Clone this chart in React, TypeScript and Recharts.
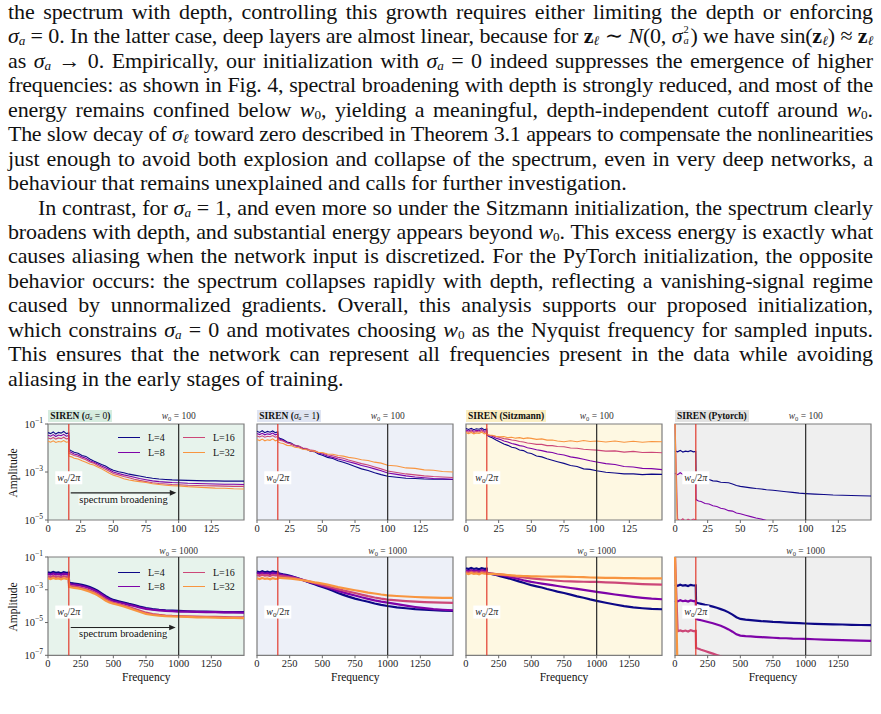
import React, { useLayoutEffect, useRef, useState } from 'react';
import { LineChart, Line, XAxis, YAxis, CartesianGrid, ReferenceLine, ReferenceArea, Legend } from 'recharts';

const SERIF = '"Liberation Serif", "DejaVu Serif", serif';

// ---- spectra: log10 amplitude per depth, sampled on two frequency grids ----
const DEPTHS = ['L=4', 'L=8', 'L=16', 'L=32'];
const DEPTH_KEYS = ['l4', 'l8', 'l16', 'l32'];
const DEPTH_COLORS = ['#0d0887', '#7e03a8', '#cc4778', '#f89540'];

const FREQ_100 = [0, 2, 4, 6, 8, 10, 12, 14, 15.9, 16.1, 18, 20, 23, 26, 29, 32, 35, 38, 41, 44, 47, 50, 54, 58, 62, 66, 70, 75, 80, 85, 90, 95, 100, 107, 114, 121, 128, 135, 142, 150];
const FREQ_1000 = [0, 20, 40, 60, 80, 100, 120, 140, 159, 161, 180, 200, 230, 260, 290, 320, 350, 380, 410, 440, 470, 500, 540, 580, 620, 660, 700, 750, 800, 850, 900, 950, 1000, 1070, 1140, 1210, 1280, 1350, 1420, 1500];

// SIREN (sigma_a = 0), w0 = 100
const SIG0_100_L4 = [-1.36, -1.40, -1.33, -1.42, -1.35, -1.38, -1.31, -1.40, -1.37, -2.06, -2.12, -2.18, -2.22, -2.31, -2.35, -2.46, -2.54, -2.61, -2.69, -2.75, -2.85, -2.93, -2.99, -3.03, -3.09, -3.13, -3.17, -3.22, -3.26, -3.29, -3.31, -3.33, -3.34, -3.35, -3.36, -3.37, -3.37, -3.38, -3.38, -3.38];
const SIG0_100_L8 = [-1.47, -1.51, -1.44, -1.52, -1.46, -1.49, -1.43, -1.51, -1.48, -2.14, -2.19, -2.25, -2.29, -2.37, -2.43, -2.53, -2.59, -2.67, -2.75, -2.82, -2.91, -3.00, -3.06, -3.12, -3.17, -3.22, -3.27, -3.32, -3.37, -3.40, -3.42, -3.44, -3.45, -3.47, -3.48, -3.49, -3.50, -3.51, -3.51, -3.52];
const SIG0_100_L16 = [-1.58, -1.62, -1.56, -1.63, -1.58, -1.61, -1.55, -1.62, -1.60, -2.22, -2.26, -2.31, -2.35, -2.43, -2.49, -2.58, -2.63, -2.73, -2.80, -2.89, -2.97, -3.06, -3.12, -3.19, -3.24, -3.30, -3.35, -3.40, -3.45, -3.48, -3.50, -3.52, -3.53, -3.55, -3.56, -3.57, -3.58, -3.59, -3.60, -3.60];
const SIG0_100_L32 = [-1.72, -1.76, -1.70, -1.77, -1.73, -1.75, -1.69, -1.76, -1.74, -2.34, -2.37, -2.43, -2.46, -2.53, -2.59, -2.67, -2.71, -2.79, -2.87, -2.96, -3.05, -3.13, -3.20, -3.28, -3.33, -3.37, -3.40, -3.44, -3.49, -3.52, -3.55, -3.57, -3.58, -3.61, -3.63, -3.65, -3.67, -3.68, -3.70, -3.71];

// SIREN (sigma_a = 1), w0 = 100
const SIG1_100_L4 = [-1.30, -1.35, -1.28, -1.36, -1.31, -1.34, -1.29, -1.36, -1.33, -1.55, -1.61, -1.65, -1.75, -1.79, -1.89, -1.93, -2.01, -2.05, -2.13, -2.15, -2.25, -2.30, -2.39, -2.44, -2.53, -2.59, -2.67, -2.77, -2.87, -2.94, -3.03, -3.11, -3.18, -3.22, -3.26, -3.27, -3.29, -3.30, -3.30, -3.31];
const SIG1_100_L8 = [-1.40, -1.44, -1.39, -1.45, -1.41, -1.43, -1.38, -1.45, -1.42, -1.60, -1.65, -1.69, -1.77, -1.83, -1.91, -1.94, -2.03, -2.04, -2.13, -2.14, -2.21, -2.25, -2.33, -2.39, -2.46, -2.51, -2.57, -2.64, -2.73, -2.79, -2.87, -2.95, -3.04, -3.10, -3.16, -3.21, -3.24, -3.27, -3.28, -3.30];
const SIG1_100_L16 = [-1.50, -1.54, -1.49, -1.55, -1.51, -1.53, -1.48, -1.55, -1.52, -1.65, -1.69, -1.71, -1.79, -1.82, -1.90, -1.92, -2.00, -2.02, -2.09, -2.11, -2.19, -2.21, -2.28, -2.32, -2.39, -2.43, -2.50, -2.57, -2.65, -2.71, -2.79, -2.87, -2.96, -3.02, -3.08, -3.12, -3.16, -3.19, -3.21, -3.23];
const SIG1_100_L32 = [-1.65, -1.69, -1.63, -1.70, -1.66, -1.68, -1.62, -1.70, -1.67, -1.75, -1.79, -1.81, -1.89, -1.90, -1.97, -1.99, -2.05, -2.07, -2.12, -2.13, -2.19, -2.19, -2.25, -2.26, -2.31, -2.34, -2.39, -2.43, -2.49, -2.52, -2.59, -2.63, -2.72, -2.75, -2.83, -2.85, -2.91, -2.93, -2.98, -3.00];

// SIREN (Sitzmann), w0 = 100
const SITZ_100_L4 = [-1.19, -1.23, -1.18, -1.24, -1.20, -1.22, -1.17, -1.24, -1.21, -1.47, -1.53, -1.57, -1.67, -1.75, -1.83, -1.89, -1.97, -2.00, -2.08, -2.11, -2.20, -2.23, -2.33, -2.37, -2.45, -2.51, -2.57, -2.64, -2.73, -2.77, -2.87, -2.89, -2.95, -3.01, -3.04, -3.08, -3.08, -3.11, -3.09, -3.10];
const SITZ_100_L8 = [-1.25, -1.29, -1.24, -1.30, -1.26, -1.28, -1.23, -1.30, -1.27, -1.46, -1.49, -1.51, -1.59, -1.64, -1.71, -1.75, -1.81, -1.85, -1.90, -1.93, -1.99, -2.02, -2.07, -2.11, -2.16, -2.19, -2.25, -2.29, -2.37, -2.41, -2.47, -2.53, -2.58, -2.65, -2.69, -2.77, -2.79, -2.85, -2.86, -2.90];
const SITZ_100_L16 = [-1.30, -1.34, -1.29, -1.35, -1.31, -1.33, -1.28, -1.35, -1.32, -1.45, -1.47, -1.48, -1.53, -1.56, -1.61, -1.63, -1.67, -1.69, -1.73, -1.75, -1.79, -1.81, -1.85, -1.85, -1.90, -1.90, -1.94, -1.95, -2.00, -2.01, -2.05, -2.07, -2.09, -2.13, -2.12, -2.17, -2.14, -2.19, -2.18, -2.20];
const SITZ_100_L32 = [-1.36, -1.40, -1.35, -1.41, -1.37, -1.39, -1.34, -1.41, -1.38, -1.44, -1.46, -1.47, -1.51, -1.53, -1.52, -1.57, -1.55, -1.59, -1.57, -1.61, -1.58, -1.60, -1.64, -1.62, -1.67, -1.67, -1.71, -1.74, -1.70, -1.74, -1.69, -1.73, -1.71, -1.75, -1.71, -1.76, -1.72, -1.76, -1.73, -1.74];

// SIREN (Pytorch), w0 = 100
const TORCH_100_L4 = [-2.12, -2.16, -2.10, -2.17, -2.13, -2.15, -2.11, -2.16, -2.14, -3.00, -3.09, -3.15, -3.29, -3.31, -3.37, -3.38, -3.43, -3.44, -3.45, -3.50, -3.56, -3.60, -3.63, -3.66, -3.69, -3.71, -3.74, -3.76, -3.79, -3.82, -3.85, -3.88, -3.90, -3.92, -3.94, -3.96, -3.97, -3.98, -3.99, -4.00];
const TORCH_100_L8 = [-3.05, -3.11, -3.03, -3.10, -3.06, -3.09, -3.02, -3.10, -3.07, -4.15, -4.21, -4.23, -4.31, -4.33, -4.41, -4.44, -4.51, -4.54, -4.61, -4.63, -4.71, -4.74, -4.80, -4.86, -4.92, -4.96, -5.02, -5.07, -5.12, -5.16, -5.19, -5.22, -5.24, -5.27, -5.29, -5.31, -5.32, -5.33, -5.34, -5.35];
const TORCH_100_L16 = [-0.90, -4.96, -5.04, -4.95, -5.06, -4.97, -5.03, -4.96, -5.00, -6.10, -6.14, -6.18, -6.22, -6.25, -6.28, -6.31, -6.34, -6.37, -6.40, -6.42, -6.45, -6.47, -6.50, -6.53, -6.55, -6.58, -6.60, -6.62, -6.64, -6.66, -6.68, -6.70, -6.71, -6.73, -6.74, -6.75, -6.76, -6.77, -6.78, -6.79];
const TORCH_100_L32 = [-0.90, -6.20, -6.24, -6.19, -6.26, -6.21, -6.25, -6.20, -6.22, -7.30, -7.33, -7.36, -7.39, -7.42, -7.44, -7.46, -7.48, -7.50, -7.52, -7.54, -7.56, -7.58, -7.60, -7.62, -7.64, -7.66, -7.68, -7.70, -7.72, -7.74, -7.75, -7.76, -7.77, -7.78, -7.79, -7.80, -7.81, -7.82, -7.83, -7.84];

// SIREN (sigma_a = 0), w0 = 1000
const SIG0_1000_L4 = [-1.93, -1.98, -1.91, -1.97, -1.94, -1.99, -1.92, -1.96, -1.95, -2.56, -2.60, -2.62, -2.65, -2.70, -2.76, -2.84, -2.94, -3.06, -3.22, -3.38, -3.52, -3.62, -3.70, -3.78, -3.86, -3.93, -4.02, -4.12, -4.18, -4.22, -4.25, -4.27, -4.29, -4.31, -4.33, -4.34, -4.35, -4.36, -4.37, -4.37];
const SIG0_1000_L8 = [-2.03, -2.08, -2.01, -2.07, -2.04, -2.09, -2.02, -2.06, -2.05, -2.63, -2.67, -2.69, -2.72, -2.77, -2.83, -2.91, -3.01, -3.13, -3.29, -3.45, -3.59, -3.69, -3.76, -3.84, -3.92, -3.99, -4.08, -4.17, -4.22, -4.26, -4.29, -4.31, -4.33, -4.34, -4.35, -4.36, -4.37, -4.38, -4.38, -4.39];
const SIG0_1000_L16 = [-2.18, -2.23, -2.16, -2.22, -2.19, -2.24, -2.17, -2.21, -2.20, -2.74, -2.78, -2.80, -2.84, -2.89, -2.96, -3.04, -3.14, -3.26, -3.42, -3.58, -3.70, -3.79, -3.87, -3.96, -4.06, -4.16, -4.27, -4.40, -4.48, -4.53, -4.57, -4.59, -4.60, -4.62, -4.64, -4.65, -4.66, -4.67, -4.68, -4.69];
const SIG0_1000_L32 = [-2.30, -2.35, -2.28, -2.34, -2.31, -2.36, -2.29, -2.33, -2.32, -2.82, -2.86, -2.88, -2.92, -2.97, -3.04, -3.12, -3.22, -3.34, -3.50, -3.66, -3.77, -3.85, -3.93, -4.02, -4.12, -4.23, -4.34, -4.47, -4.54, -4.58, -4.61, -4.63, -4.64, -4.66, -4.68, -4.69, -4.70, -4.71, -4.72, -4.73];

// SIREN (sigma_a = 1), w0 = 1000
const SIG1_1000_L4 = [-1.89, -1.94, -1.87, -1.93, -1.90, -1.95, -1.88, -1.92, -1.91, -1.98, -2.02, -2.06, -2.11, -2.17, -2.24, -2.32, -2.40, -2.50, -2.58, -2.66, -2.75, -2.83, -2.94, -3.06, -3.20, -3.31, -3.42, -3.54, -3.64, -3.73, -3.84, -3.92, -3.99, -4.07, -4.13, -4.18, -4.21, -4.24, -4.27, -4.29];
const SIG1_1000_L8 = [-1.98, -2.03, -1.96, -2.02, -1.99, -2.04, -1.97, -2.01, -2.00, -2.05, -2.08, -2.11, -2.15, -2.20, -2.26, -2.33, -2.40, -2.48, -2.55, -2.62, -2.69, -2.76, -2.86, -2.96, -3.07, -3.16, -3.25, -3.35, -3.46, -3.56, -3.65, -3.72, -3.78, -3.88, -3.97, -4.05, -4.12, -4.18, -4.22, -4.26];
const SIG1_1000_L16 = [-2.10, -2.15, -2.08, -2.14, -2.11, -2.16, -2.09, -2.13, -2.12, -2.14, -2.16, -2.18, -2.21, -2.25, -2.29, -2.34, -2.40, -2.46, -2.52, -2.58, -2.64, -2.70, -2.79, -2.88, -2.96, -3.04, -3.11, -3.20, -3.30, -3.39, -3.47, -3.54, -3.60, -3.65, -3.69, -3.72, -3.75, -3.77, -3.79, -3.80];
const SIG1_1000_L32 = [-2.30, -2.35, -2.28, -2.34, -2.31, -2.36, -2.29, -2.33, -2.32, -2.28, -2.28, -2.29, -2.30, -2.32, -2.35, -2.38, -2.42, -2.46, -2.50, -2.55, -2.58, -2.62, -2.69, -2.76, -2.84, -2.90, -2.96, -3.03, -3.10, -3.17, -3.23, -3.29, -3.34, -3.38, -3.41, -3.44, -3.46, -3.48, -3.49, -3.50];

// SIREN (Sitzmann), w0 = 1000
const SITZ_1000_L4 = [-1.69, -1.74, -1.67, -1.73, -1.70, -1.75, -1.68, -1.72, -1.71, -1.98, -2.01, -2.05, -2.10, -2.17, -2.23, -2.29, -2.36, -2.43, -2.50, -2.57, -2.65, -2.72, -2.79, -2.86, -2.95, -3.03, -3.11, -3.20, -3.30, -3.40, -3.49, -3.59, -3.68, -3.79, -3.90, -4.00, -4.08, -4.13, -4.17, -4.19];
const SITZ_1000_L8 = [-1.82, -1.87, -1.80, -1.86, -1.83, -1.88, -1.81, -1.85, -1.84, -1.99, -2.01, -2.03, -2.06, -2.10, -2.14, -2.19, -2.24, -2.30, -2.36, -2.42, -2.47, -2.52, -2.57, -2.62, -2.67, -2.72, -2.77, -2.83, -2.89, -2.95, -3.01, -3.07, -3.13, -3.21, -3.29, -3.36, -3.43, -3.49, -3.54, -3.58];
const SITZ_1000_L16 = [-1.91, -1.96, -1.89, -1.95, -1.92, -1.97, -1.90, -1.94, -1.93, -2.00, -2.01, -2.02, -2.04, -2.06, -2.09, -2.12, -2.16, -2.19, -2.22, -2.25, -2.28, -2.30, -2.33, -2.36, -2.39, -2.42, -2.45, -2.48, -2.49, -2.50, -2.51, -2.52, -2.52, -2.55, -2.57, -2.60, -2.62, -2.65, -2.67, -2.69];
const SITZ_1000_L32 = [-1.99, -2.04, -1.97, -2.03, -2.00, -2.05, -1.98, -2.02, -2.01, -2.02, -2.03, -2.03, -2.05, -2.06, -2.08, -2.10, -2.12, -2.14, -2.15, -2.16, -2.17, -2.18, -2.18, -2.19, -2.19, -2.20, -2.20, -2.20, -2.21, -2.22, -2.23, -2.25, -2.26, -2.27, -2.28, -2.29, -2.29, -2.30, -2.30, -2.31];

// SIREN (Pytorch), w0 = 1000
const TORCH_1000_L4 = [-2.71, -2.76, -2.69, -2.75, -2.72, -2.77, -2.70, -2.74, -2.73, -3.78, -3.82, -3.86, -3.92, -3.97, -4.03, -4.10, -4.18, -4.27, -4.38, -4.52, -4.68, -4.78, -4.82, -4.85, -4.88, -4.91, -4.93, -4.96, -4.98, -5.00, -5.02, -5.04, -5.06, -5.08, -5.10, -5.11, -5.12, -5.14, -5.15, -5.16];
const TORCH_1000_L8 = [-3.66, -3.71, -3.64, -3.70, -3.67, -3.72, -3.65, -3.69, -3.68, -4.78, -4.82, -4.86, -4.92, -4.98, -5.04, -5.12, -5.20, -5.30, -5.42, -5.56, -5.72, -5.80, -5.83, -5.85, -5.87, -5.89, -5.91, -5.93, -5.95, -5.96, -5.98, -5.99, -6.00, -6.02, -6.04, -6.06, -6.07, -6.09, -6.10, -6.12];
const TORCH_1000_L16 = [-0.90, -5.53, -5.48, -5.54, -5.49, -5.55, -5.47, -5.52, -5.51, -6.55, -6.60, -6.66, -6.74, -6.82, -6.90, -6.98, -7.06, -7.14, -7.24, -7.36, -7.50, -7.60, -7.62, -7.64, -7.66, -7.68, -7.70, -7.72, -7.74, -7.75, -7.77, -7.78, -7.80, -7.81, -7.83, -7.84, -7.85, -7.86, -7.87, -7.88];
const TORCH_1000_L32 = [-0.90, -8.10, -8.14, -8.09, -8.15, -8.11, -8.16, -8.10, -8.12, -8.60, -8.62, -8.64, -8.66, -8.68, -8.70, -8.72, -8.74, -8.76, -8.78, -8.80, -8.82, -8.84, -8.86, -8.88, -8.90, -8.92, -8.94, -8.96, -8.98, -9.00, -9.02, -9.04, -9.06, -9.08, -9.10, -9.12, -9.14, -9.16, -9.18, -9.20];

// ---- axes ----
const W0_VALUES = [100, 1000];
const CUTOFFS = [15.92, 159.2]; // w0 / 2pi
const X_MAX = [150, 1500];
const X_TICKS = [[0, 25, 50, 75, 100, 125], [0, 250, 500, 750, 1000, 1250]];
const Y_MIN = [1e-5, 1e-7];
const Y_TICKS = [[1e-5, 1e-3, 1e-1], [1e-7, 1e-5, 1e-3, 1e-1]];
const ARROW_SPAN = [[17.4, 98.2], [174, 977]];
const ARROW_LEVEL = [1.35e-4, 5e-6];

// ---- layout ----
const COL_LEFT = [48.3, 257.3, 466, 675];
const PLOT_W = 196;
const ROW_TOP = [424, 556.7];
const ROW_H = [96, 98.3];
const PANEL_BG = ['#e7f3ec', '#edf0f8', '#fef8e2', '#efefef'];
const TAG_BG = ['#d6ecdf', '#dfe4f2', '#fbefc4', '#e2e2e2'];

const GRIDS = [FREQ_100, FREQ_1000];
const SERIES = [
  [
    [SIG0_100_L4, SIG0_100_L8, SIG0_100_L16, SIG0_100_L32],
    [SIG1_100_L4, SIG1_100_L8, SIG1_100_L16, SIG1_100_L32],
    [SITZ_100_L4, SITZ_100_L8, SITZ_100_L16, SITZ_100_L32],
    [TORCH_100_L4, TORCH_100_L8, TORCH_100_L16, TORCH_100_L32],
  ],
  [
    [SIG0_1000_L4, SIG0_1000_L8, SIG0_1000_L16, SIG0_1000_L32],
    [SIG1_1000_L4, SIG1_1000_L8, SIG1_1000_L16, SIG1_1000_L32],
    [SITZ_1000_L4, SITZ_1000_L8, SITZ_1000_L16, SITZ_1000_L32],
    [TORCH_1000_L4, TORCH_1000_L8, TORCH_1000_L16, TORCH_1000_L32],
  ],
];

const toRows = (freq: number[], logs: number[][]) =>
  freq.map((f, i) => {
    const row: any = { f };
    DEPTH_KEYS.forEach((k, j) => { row[k] = Math.pow(10, logs[j][i]); });
    return row;
  });

const subStyle: React.CSSProperties = { fontSize: '0.6em', verticalAlign: '-0.12em', lineHeight: 0 };

const Sa = () => (<><i>σ</i><i style={subStyle}>a</i></>);
const Wz = () => (<><i>w</i><span style={subStyle}>0</span></>);
const Zl = () => (<><b>z</b><i style={subStyle}>ℓ</i></>);

const TITLES = [
  <>SIREN (<span style={{ fontWeight: 'normal' }}><Sa /> = 0</span>)</>,
  <>SIREN (<span style={{ fontWeight: 'normal' }}><Sa /> = 1</span>)</>,
  <>SIREN (Sitzmann)</>,
  <>SIREN (Pytorch)</>,
];

// ---- svg pieces ----
const PowerTick = ({ x, y, payload }: any) => {
  const exp = Math.round(Math.log10(payload.value));
  return (
    <text x={x} y={y} dy={3.6} textAnchor="end" fontSize={10.5} fontFamily={SERIF} fill="#222">
      10<tspan dy={-5} fontSize={7.5}>{'\u2212' + Math.abs(exp)}</tspan>
    </text>
  );
};

const CutoffTag = ({ viewBox }: any) => {
  const cy = viewBox.y + viewBox.height * 0.56;
  return (
    <g>
      <rect x={viewBox.x - 13.5} y={cy - 6.5} width={27} height={13} fill="#fff" />
      <text x={viewBox.x} y={cy + 3} textAnchor="middle" fontSize={10} fontFamily={SERIF} fill="#222">
        <tspan fontStyle="italic">w</tspan>
        <tspan fontSize={7} dy={2}>0</tspan>
        <tspan dy={-2}>/2</tspan>
        <tspan fontStyle="italic">π</tspan>
      </text>
    </g>
  );
};

const W0Tag = ({ viewBox, w0, lift }: any) => (
  <text x={viewBox.x} y={viewBox.y - lift} textAnchor="middle" fontSize={9.5} fontFamily={SERIF} fill="#333">
    <tspan fontStyle="italic">w</tspan>
    <tspan fontSize={6.5} dy={2}>0</tspan>
    <tspan dy={-2}>{` = ${w0}`}</tspan>
  </text>
);

const BroadeningArrow = ({ x1, y1, x2, gap }: any) => {
  const mid = (x1 + x2) / 2;
  return (
    <g>
      <line x1={x1} y1={y1} x2={x2 - 5} y2={y1} stroke="#222" strokeWidth={1.1} />
      <polygon points={`${x2},${y1} ${x2 - 6.5},${y1 - 2.8} ${x2 - 6.5},${y1 + 2.8}`} fill="#222" />
      <rect x={mid - 45} y={y1 + 1.5} width={90} height={gap * 2 - 2} fill="#fff" fillOpacity={0.55} />
      <text x={mid} y={y1 + gap + 3.5} textAnchor="middle" fontSize={10.5} fontFamily={SERIF} fill="#111">
        spectrum broadening
      </text>
    </g>
  );
};

const DepthLegend = ({ payload, rowH }: any) => {
  const items = DEPTHS.map((name) => (payload || []).find((p: any) => p.value === name)).filter(Boolean);
  return (
    <div style={{ display: 'grid', gridTemplateRows: `repeat(2, ${rowH}px)`, gridAutoFlow: 'column', gridAutoColumns: '65px', fontFamily: SERIF, fontSize: 10, color: '#111' }}>
      {items.map((p: any) => (
        <div key={p.value} style={{ display: 'flex', alignItems: 'center' }}>
          <span style={{ width: 22, borderTop: `1.6px solid ${p.color}`, marginRight: 8 }} />
          <span>{p.value}</span>
        </div>
      ))}
    </div>
  );
};

function SpectrumPanel({ row, col }: { row: number; col: number }) {
  const first = col === 0;
  const yw = first ? 40 : 8;
  const width = yw + PLOT_W + 6;
  const height = 14 + ROW_H[row] + 24;
  const data = toRows(GRIDS[row], SERIES[row][col]);
  return (
    <div style={{ position: 'absolute', left: COL_LEFT[col] - yw, top: ROW_TOP[row] - 14 }}>
      <LineChart width={width} height={height} data={data} margin={{ top: 14, right: 6, bottom: 0, left: 0 }}>
        <CartesianGrid fill={PANEL_BG[col]} stroke="none" horizontal={false} vertical={false} />
        <XAxis
          dataKey="f"
          type="number"
          domain={[0, X_MAX[row]]}
          ticks={X_TICKS[row]}
          interval={0}
          height={24}
          axisLine={false}
          tickSize={3}
          tickMargin={row === 0 ? 2 : 1}
          tickLine={{ stroke: '#666' }}
          tick={{ fill: '#222', fontSize: 10.5, fontFamily: SERIF }}
        />
        <YAxis
          type="number"
          scale="log"
          domain={[Y_MIN[row], 1e-1]}
          allowDataOverflow
          ticks={Y_TICKS[row]}
          interval={0}
          width={yw}
          axisLine={false}
          tickSize={3}
          tickLine={{ stroke: '#666' }}
          tick={first ? <PowerTick /> : false}
        />
        {DEPTH_KEYS.map((k, i) => (
          <Line
            key={k}
            type="linear"
            dataKey={k}
            name={DEPTHS[i]}
            stroke={DEPTH_COLORS[i]}
            strokeWidth={row === 0 ? 1.1 : 2.2}
            dot={false}
            isAnimationActive={false}
          />
        ))}
        <ReferenceLine x={CUTOFFS[row]} stroke="#e23b2e" strokeWidth={1.2} ifOverflow="visible" label={<CutoffTag />} />
        <ReferenceLine x={W0_VALUES[row]} stroke="#2a2a2a" strokeWidth={1.2} ifOverflow="visible" label={<W0Tag w0={W0_VALUES[row]} lift={row === 0 ? 5.5 : 3.2} />} />
        <ReferenceArea x1={0} x2={X_MAX[row]} y1={Y_MIN[row]} y2={1e-1} fill="none" stroke="#7d7d7d" strokeWidth={1.2} ifOverflow="visible" />
        {first && (
          <ReferenceLine
            segment={[{ x: ARROW_SPAN[row][0], y: ARROW_LEVEL[row] }, { x: ARROW_SPAN[row][1], y: ARROW_LEVEL[row] }]}
            ifOverflow="visible"
            shape={(p: any) => <BroadeningArrow {...p} gap={row === 0 ? 6.5 : 6} />}
          />
        )}
        {first && (
          <Legend
            layout="horizontal"
            verticalAlign="middle"
            align="center"
            content={<DepthLegend rowH={row === 0 ? 15 : 14.5} />}
            wrapperStyle={{ left: 109.7, top: row === 0 ? 19.8 : 22.4, width: 140, height: 32 }}
          />
        )}
      </LineChart>
    </div>
  );
}

// ---- text ----
const FONT_PX = 22;
const LINE_H = 24.45;
const TEXT_W = 865;

// one justified line; squeezes letter spacing if the line would not fit on its own
const Ln = ({ children, last, indent }: any) => {
  const ref = useRef<HTMLSpanElement>(null);
  const [spacing, setSpacing] = useState<number | null>(null);
  useLayoutEffect(() => {
    const el = ref.current;
    if (!el) return;
    const natural = el.getBoundingClientRect().width;
    const avail = TEXT_W - (indent ? 30 : 0);
    const chars = (el.textContent || '').length || 1;
    setSpacing(natural > avail - 6 ? -(natural - avail + 8) / chars : 0);
  }, [indent]);
  return (
    <div style={{ height: LINE_H, lineHeight: `${LINE_H}px`, textAlign: 'justify', textAlignLast: last ? 'left' : 'justify', textIndent: indent ? 30 : 0, letterSpacing: spacing ?? 0 }}>
      <span ref={ref} style={{ whiteSpace: spacing === null ? 'nowrap' : 'normal' }}>{children}</span>
    </div>
  );
};

// sigma with stacked superscript 2 and subscript a; zero-height box so the line box is untouched
const SigSq = () => {
  const fs = 10.5;
  return (
    <>
      <i>σ</i>
      <span style={{ position: 'relative', display: 'inline-block', width: 8, height: 0 }}>
        <span style={{ position: 'absolute', left: 1, top: -18.95, fontSize: fs, lineHeight: 1 }}>2</span>
        <i style={{ position: 'absolute', left: 1, top: -7.25, fontSize: fs, lineHeight: 1 }}>a</i>
      </span>
    </>
  );
};

function Prose() {
  return (
    <div style={{ position: 'absolute', left: 8, top: 0, width: TEXT_W, fontFamily: SERIF, fontSize: FONT_PX, color: '#111' }}>
      <Ln>the spectrum with depth, controlling this growth requires either limiting the depth or enforcing</Ln>
      <Ln><Sa /> = 0. In the latter case, deep layers are almost linear, because for <Zl /> ∼ <i>N</i>(0, <SigSq />) we have sin(<Zl />) ≈ <Zl /></Ln>
      <Ln>as <Sa /> → 0. Empirically, our initialization with <Sa /> = 0 indeed suppresses the emergence of higher</Ln>
      <Ln>frequencies: as shown in Fig. 4, spectral broadening with depth is strongly reduced, and most of the</Ln>
      <Ln>energy remains confined below <Wz />, yielding a meaningful, depth-independent cutoff around <Wz />.</Ln>
      <Ln>The slow decay of <i>σ</i><i style={subStyle}>ℓ</i> toward zero described in Theorem 3.1 appears to compensate the nonlinearities</Ln>
      <Ln>just enough to avoid both explosion and collapse of the spectrum, even in very deep networks, a</Ln>
      <Ln last>behaviour that remains unexplained and calls for further investigation.</Ln>
      <Ln indent>In contrast, for <Sa /> = 1, and even more so under the Sitzmann initialization, the spectrum clearly</Ln>
      <Ln>broadens with depth, and substantial energy appears beyond <Wz />. This excess energy is exactly what</Ln>
      <Ln>causes aliasing when the network input is discretized. For the PyTorch initialization, the opposite</Ln>
      <Ln>behavior occurs: the spectrum collapses rapidly with depth, reflecting a vanishing-signal regime</Ln>
      <Ln>caused by unnormalized gradients.  Overall, this analysis supports our proposed initialization,</Ln>
      <Ln>which constrains <Sa /> = 0 and motivates choosing <Wz /> as the Nyquist frequency for sampled inputs.</Ln>
      <Ln>This ensures that the network can represent all frequencies present in the data while avoiding</Ln>
      <Ln last>aliasing in the early stages of training.</Ln>
    </div>
  );
}

export default function App() {
  return (
    <div style={{ position: 'absolute', left: 0, top: 0, width: 881, height: 714, background: '#fff', overflow: 'hidden' }}>
      <Prose />
      {TITLES.map((t, c) => (
        <div
          key={c}
          style={{ position: 'absolute', left: COL_LEFT[c], top: 409.5, height: 12, lineHeight: '12px', padding: '0 2px', background: TAG_BG[c], fontFamily: SERIF, fontSize: 9.5, fontWeight: 'bold', color: '#111', whiteSpace: 'nowrap' }}
        >
          {t}
        </div>
      ))}
      {[0, 1].map((r) =>
        [0, 1, 2, 3].map((c) => <SpectrumPanel key={`${r}-${c}`} row={r} col={c} />)
      )}
      {[473, 606.5].map((cy) => (
        <div
          key={cy}
          style={{ position: 'absolute', left: 13 - 40, top: cy - 8, width: 80, lineHeight: '16px', textAlign: 'center', transform: 'rotate(-90deg)', fontFamily: SERIF, fontSize: 11.5, color: '#111' }}
        >
          Amplitude
        </div>
      ))}
      {COL_LEFT.map((x) => (
        <div
          key={x}
          style={{ position: 'absolute', left: x + PLOT_W / 2 - 40, top: 668.7, width: 80, lineHeight: '16px', textAlign: 'center', fontFamily: SERIF, fontSize: 11.5, color: '#111' }}
        >
          Frequency
        </div>
      ))}
    </div>
  );
}
